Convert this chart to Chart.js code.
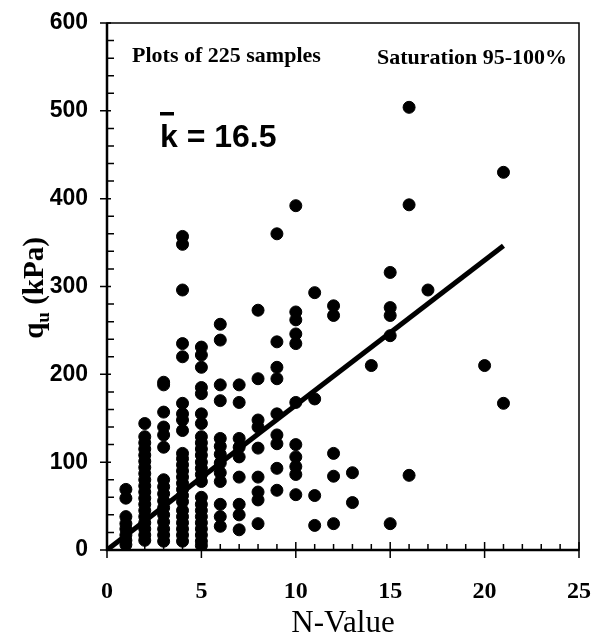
<!DOCTYPE html>
<html>
<head>
<meta charset="utf-8">
<script src="https://cdn.jsdelivr.net/npm/chart.js@4.4.0/dist/chart.umd.min.js"></script>
<style>
  html, body { margin: 0; padding: 0; background: #fff; }
  #wrap { width: 595px; height: 638px; }
</style>
</head>
<body>
<div id="wrap"><canvas id="chart"></canvas></div>
<script>
// N-values (SPT blow count) and the qu readings found at each of them
const nColumns = [1, 2, 3, 4, 5, 6, 7, 8, 9, 10, 11, 12, 13, 14, 15, 16, 17, 20, 21];
const quByN = [
    [69, 59, 38, 30, 24, 17, 11, 6],
    [144, 129, 122, 115, 108, 101, 94, 87, 80, 73, 66, 59, 52, 45, 38, 31, 24, 17, 11],
    [191, 188, 157, 140, 131, 117, 80, 72, 64, 56, 48, 40, 32, 24, 17, 10],
    [357, 348, 296, 235, 220, 167, 155, 148, 136, 110, 104, 97, 90, 83, 76, 69, 62, 55, 45, 38, 31, 24, 17, 10],
    [231, 222, 208, 185, 178, 155, 144, 129, 122, 115, 108, 100, 93, 86, 78, 60, 52, 45, 38, 31, 24, 17, 10, 5],
    [257, 239, 188, 170, 127, 118, 109, 99, 88, 78, 52, 38, 27],
    [188, 168, 127, 117, 106, 83, 52, 40, 23],
    [273, 195, 148, 140, 116, 83, 66, 57, 30],
    [360, 237, 208, 195, 155, 131, 121, 93, 68],
    [392, 271, 262, 246, 235, 168, 120, 106, 95, 86, 63],
    [293, 172, 62, 28],
    [278, 267, 110, 84, 30],
    [88, 54],
    [210],
    [316, 276, 267, 244, 30],
    [504, 393, 85],
    [296],
    [210],
    [430, 167]
];

// mean ratio qu / N and the extent of the fitted line
const kMean = 16.5;
const fitN = [0, 21];

const xTicks = [0, 5, 10, 15, 20, 25];
const yTicks = [0, 100, 200, 300, 400, 500, 600];

const points = [];
nColumns.forEach((n, i) => {
    quByN[i].forEach(q => points.push({ x: n, y: q }));
});
const fitLine = fitN.map(n => ({ x: n, y: kMean * n }));

const serif = '"Liberation Serif", "Times New Roman", serif';
const sans = '"Liberation Sans", Arial, sans-serif';

// frame, minor ticks and the text written on the plot
const decor = {
    id: 'decor',
    afterDraw(chart) {
        const { ctx, chartArea: a, scales: { x, y } } = chart;
        ctx.save();
        ctx.strokeStyle = '#000';
        ctx.fillStyle = '#000';

        ctx.lineWidth = 1.5;
        ctx.strokeRect(a.left, a.top, a.right - a.left, a.bottom - a.top);
        ctx.lineWidth = 2.5;
        ctx.beginPath();
        ctx.moveTo(a.left, a.top);
        ctx.lineTo(a.left, a.bottom);
        ctx.lineTo(a.right, a.bottom);
        ctx.stroke();

        ctx.lineWidth = 1.5;
        ctx.beginPath();
        for (let v = 0; v <= 600; v += 20) {
            const py = y.getPixelForValue(v);
            if (v % 100 === 0) {
                ctx.moveTo(a.left - 7, py);
                ctx.lineTo(a.left + 4, py);
            } else {
                ctx.moveTo(a.left, py);
                ctx.lineTo(a.left + 7, py);
            }
        }
        for (let v = 0; v <= 25; v += 1) {
            const px = x.getPixelForValue(v);
            if (v % 5 === 0) {
                ctx.moveTo(px, a.bottom + 8);
                ctx.lineTo(px, a.bottom - 8);
            } else {
                ctx.moveTo(px, a.bottom);
                ctx.lineTo(px, a.bottom - 6);
            }
        }
        ctx.stroke();

        ctx.textBaseline = 'alphabetic';
        ctx.textAlign = 'left';
        ctx.font = 'bold 22px ' + serif;
        ctx.fillText('Plots of 225 samples', 132, 62);
        ctx.fillText('Saturation 95-100%', 377, 64);

        ctx.font = 'bold 32px ' + sans;
        ctx.fillText('k = 16.5', 160, 147);
        ctx.fillRect(160, 112, 14, 3.5);

        // y axis title with subscript
        ctx.translate(43, 288);
        ctx.rotate(-Math.PI / 2);
        const parts = [['q', 29, 0], ['u', 19, 6], [' (kPa)', 29, 0]];
        let total = 0;
        parts.forEach(p => { ctx.font = 'bold ' + p[1] + 'px ' + serif; total += ctx.measureText(p[0]).width; });
        let cx = -total / 2;
        parts.forEach(p => {
            ctx.font = 'bold ' + p[1] + 'px ' + serif;
            ctx.fillText(p[0], cx, p[2]);
            cx += ctx.measureText(p[0]).width;
        });
        ctx.restore();
    }
};

new Chart(document.getElementById('chart'), {
    type: 'scatter',
    data: {
        datasets: [
            {
                type: 'line',
                data: fitLine,
                borderColor: '#000',
                borderWidth: 5,
                pointRadius: 0,
                fill: false
            },
            {
                data: points,
                backgroundColor: '#000',
                borderColor: '#000',
                pointRadius: 6,
                pointHoverRadius: 6
            }
        ]
    },
    options: {
        responsive: true,
        maintainAspectRatio: false,
        animation: false,
        layout: { padding: { top: 23, right: 16, left: 0, bottom: 0 } },
        plugins: { legend: { display: false }, tooltip: { enabled: false } },
        scales: {
            x: {
                type: 'linear',
                min: 0,
                max: 25,
                afterBuildTicks: s => { s.ticks = xTicks.map(v => ({ value: v })); },
                afterFit: s => { s.height = 88; s.paddingLeft = 0; s.paddingRight = 0; },
                grid: { display: false, drawTicks: false },
                border: { display: false },
                ticks: { color: '#000', padding: 27, font: { family: serif, size: 24, weight: 'bold' } },
                title: {
                    display: true,
                    text: 'N-Value',
                    color: '#000',
                    padding: { top: 0, bottom: -4 },
                    font: { family: serif, size: 31 }
                }
            },
            y: {
                type: 'linear',
                min: 0,
                max: 600,
                afterBuildTicks: s => { s.ticks = yTicks.map(v => ({ value: v })); },
                afterFit: s => { s.width = 107; s.paddingTop = 0; s.paddingBottom = 0; },
                grid: { display: false, drawTicks: false },
                border: { display: false },
                ticks: { color: '#000', padding: 19, font: { family: sans, size: 23, weight: 'bold' } }
            }
        }
    },
    plugins: [decor]
});
</script>
</body>
</html>
